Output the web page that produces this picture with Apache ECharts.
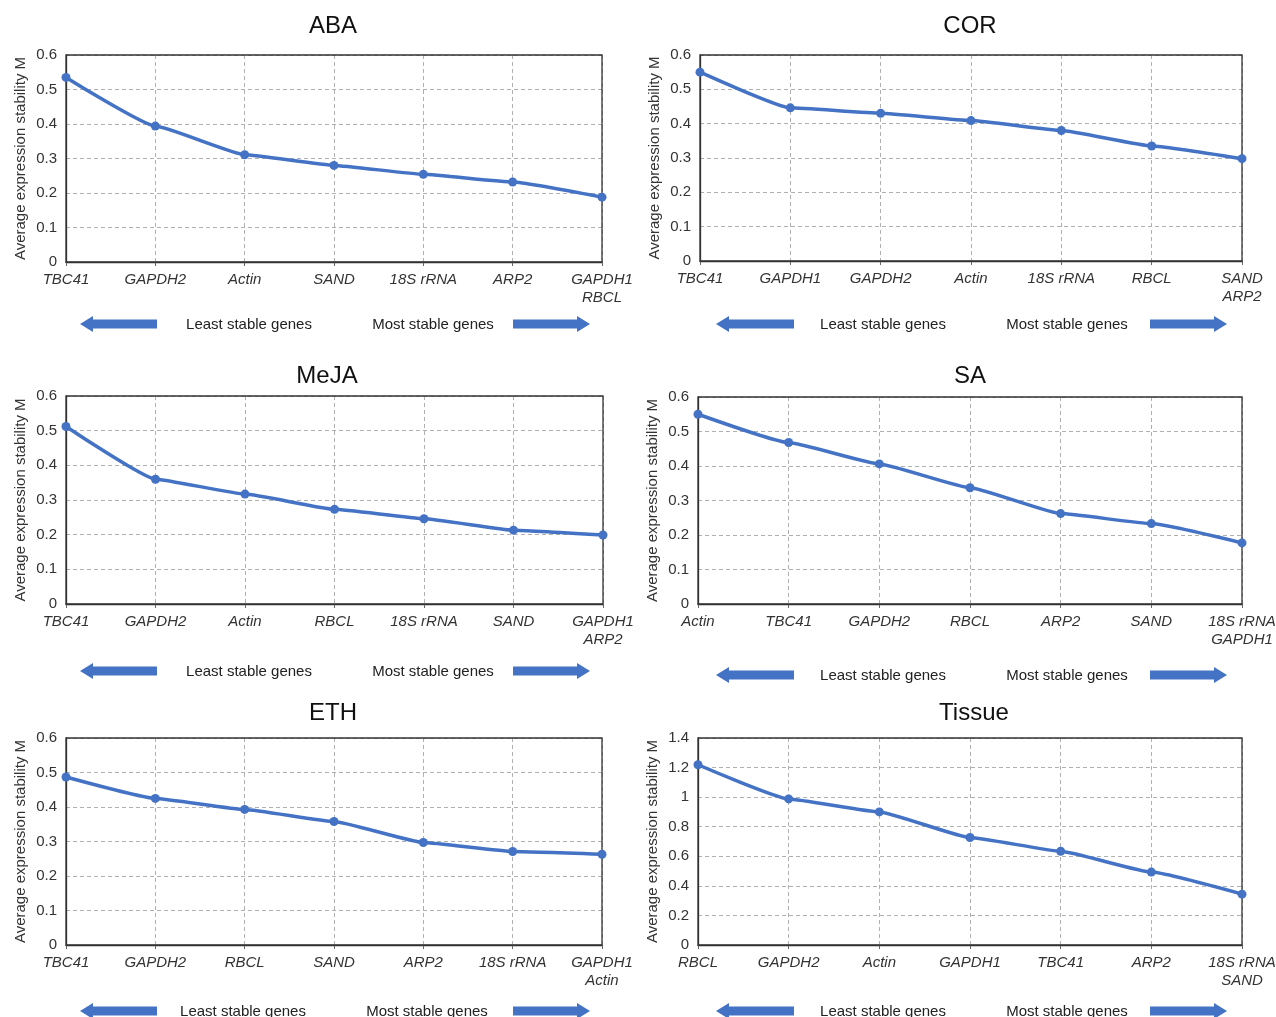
<!DOCTYPE html>
<html>
<head>
<meta charset="utf-8">
<script src="https://cdn.jsdelivr.net/npm/echarts@6/dist/echarts.min.js"></script>
<style>
html,body{margin:0;padding:0;background:#fff;}
#c{width:1276px;height:1017px;}
</style>
</head>
<body>
<div id="c"></div>
<script>
// ---- data ----
const titles = ['ABA','COR','MeJA','SA','ETH','Tissue'];
const abaGenes = ['TBC41','GAPDH2','Actin','SAND','18S rRNA','ARP2','GAPDH1\nRBCL'];
const abaM = [0.535,0.394,0.311,0.280,0.254,0.232,0.188];
const corGenes = ['TBC41','GAPDH1','GAPDH2','Actin','18S rRNA','RBCL','SAND\nARP2'];
const corM = [0.550,0.446,0.430,0.409,0.380,0.335,0.298];
const mejaGenes = ['TBC41','GAPDH2','Actin','RBCL','18S rRNA','SAND','GAPDH1\nARP2'];
const mejaM = [0.512,0.360,0.317,0.273,0.246,0.213,0.199];
const saGenes = ['Actin','TBC41','GAPDH2','RBCL','ARP2','SAND','18S rRNA\nGAPDH1'];
const saM = [0.550,0.468,0.406,0.337,0.262,0.233,0.177];
const ethGenes = ['TBC41','GAPDH2','RBCL','SAND','ARP2','18S rRNA','GAPDH1\nActin'];
const ethM = [0.487,0.425,0.393,0.358,0.297,0.271,0.263];
const tissueGenes = ['RBCL','GAPDH2','Actin','GAPDH1','TBC41','ARP2','18S rRNA\nSAND'];
const tissueM = [1.219,0.988,0.900,0.727,0.634,0.493,0.344];
const yMax = [0.6,0.6,0.6,0.6,0.6,1.4];
const yStep = [0.1,0.1,0.1,0.1,0.1,0.2];
const yAxisName = 'Average expression stability M';
const leastText = 'Least stable genes';
const mostText = 'Most stable genes';

const genesList = [abaGenes,corGenes,mejaGenes,saGenes,ethGenes,tissueGenes];
const valuesList = [abaM,corM,mejaM,saM,ethM,tissueM];

// ---- layout ----
const grids = [
  {left:66, top:55, width:536, height:207},
  {left:700, top:55, width:542, height:206},
  {left:66, top:396, width:537, height:208},
  {left:698, top:397, width:544, height:207},
  {left:66, top:738, width:536, height:207},
  {left:698, top:738, width:544, height:207}
];
const titlePos = [[333,26],[970,26],[327,376],[970,376],[333,713],[974,713]];
const footerY = [324,324,671,675,1011,1011];

const FONT = '"Liberation Sans", Arial, sans-serif';
const BLUE = '#4472C4';

const option = {
  animation:false,
  backgroundColor:'#fff',
  grid: grids.map(g => Object.assign({show:false, containLabel:false, outerBoundsMode:'none'}, g)),
  xAxis: genesList.map((genes,i) => ({
    type:'category', gridIndex:i, data:genes, boundaryGap:false,
    axisLine:{show:true, lineStyle:{color:'#333', width:1.3}},
    axisTick:{show:true, length:4, alignWithLabel:true, lineStyle:{color:'#666'}},
    axisLabel:{interval:0, fontStyle:'italic', fontSize:15, color:'#333', fontFamily:FONT, margin:9, lineHeight:18},
    splitLine:{show:true, lineStyle:{type:[4,3], color:'#b0b0b0', width:1}}
  })),
  yAxis: yMax.map((m,i) => ({
    type:'value', gridIndex:i, min:0, max:m, interval:yStep[i],
    name:yAxisName, nameLocation:'middle', nameGap:38, nameRotate:90,
    nameTextStyle:{fontSize:15, color:'#333', fontFamily:FONT},
    axisLine:{show:true, lineStyle:{color:'#333', width:1.3}},
    axisTick:{show:false},
    axisLabel:{fontSize:15, color:'#333', fontFamily:FONT, margin:9},
    splitLine:{show:true, lineStyle:{type:[4,3], color:'#b0b0b0', width:1}}
  })),
  series: valuesList.map((vals,i) => ({
    type:'line', xAxisIndex:i, yAxisIndex:i, data:vals,
    smooth:0.12, smoothMonotone:'x',
    symbol:'circle', symbolSize:9,
    lineStyle:{color:BLUE, width:3.5},
    itemStyle:{color:BLUE},
    z:5
  })),
  graphic: []
};

// plot frames drawn above split lines, below the series markers
grids.forEach(g => {
  option.graphic.push({type:'rect', z:3, silent:true,
    shape:{x:g.left, y:g.top, width:g.width, height:g.height},
    style:{fill:'none', stroke:'#333', lineWidth:1.3}});
});

titles.forEach((t,i) => {
  option.graphic.push({type:'text', style:{text:t, x:titlePos[i][0], y:titlePos[i][1], textAlign:'center', textVerticalAlign:'middle', font:'24px ' + FONT, fill:'#111'}});
});

function leftArrow(x0,x1,y){
  return [[x0,y],[x0+13,y-8],[x0+13,y-4.5],[x1,y-4.5],[x1,y+4.5],[x0+13,y+4.5],[x0+13,y+8]];
}
function rightArrow(x0,x1,y){
  return [[x1,y],[x1-13,y-8],[x1-13,y-4.5],[x0,y-4.5],[x0,y+4.5],[x1-13,y+4.5],[x1-13,y+8]];
}
grids.forEach((g,i) => {
  const isLeft = (i % 2 === 0);
  const y = footerY[i];
  let la, lt, mt, ra;
  if (isLeft) {
    if (i === 4) { la=[80,157]; lt=243; mt=427; ra=[513,590]; }
    else { la=[80,157]; lt=249; mt=433; ra=[513,590]; }
  } else {
    la=[716,794]; lt=883; mt=1067; ra=[1150,1227];
  }
  option.graphic.push({type:'polygon', shape:{points:leftArrow(la[0],la[1],y)}, style:{fill:BLUE}});
  option.graphic.push({type:'polygon', shape:{points:rightArrow(ra[0],ra[1],y)}, style:{fill:BLUE}});
  option.graphic.push({type:'text', style:{text:leastText, x:lt, y:y+1, textAlign:'center', textVerticalAlign:'middle', font:'15px ' + FONT, fill:'#222'}});
  option.graphic.push({type:'text', style:{text:mostText, x:mt, y:y+1, textAlign:'center', textVerticalAlign:'middle', font:'15px ' + FONT, fill:'#222'}});
});

const chart = echarts.init(document.getElementById('c'), null, {renderer:'canvas'});
chart.setOption(option);
</script>
</body>
</html>
